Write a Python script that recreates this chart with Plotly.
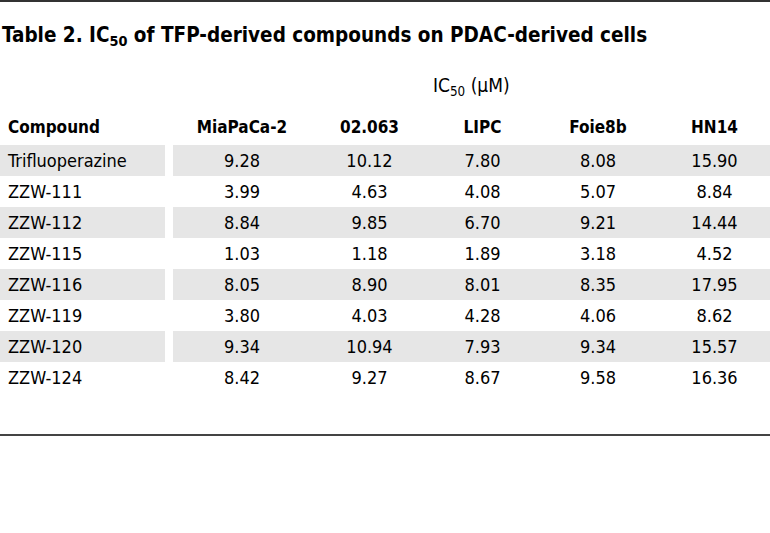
import plotly.graph_objects as go

title_text = "Table 2. IC<sub>50</sub> of TFP-derived compounds on PDAC-derived cells"
group_header = "IC<sub>50</sub> (μM)"
compounds = ["Trifluoperazine", "ZZW-111", "ZZW-112", "ZZW-115", "ZZW-116", "ZZW-119", "ZZW-120", "ZZW-124"]
cell_lines = ["MiaPaCa-2", "02.063", "LIPC", "Foie8b", "HN14"]
miapaca2 = ["9.28", "3.99", "8.84", "1.03", "8.05", "3.80", "9.34", "8.42"]
v02063 = ["10.12", "4.63", "9.85", "1.18", "8.90", "4.03", "10.94", "9.27"]
lipc = ["7.80", "4.08", "6.70", "1.89", "8.01", "4.28", "7.93", "8.67"]
foie8b = ["8.08", "5.07", "9.21", "3.18", "8.35", "4.06", "9.34", "9.58"]
hn14 = ["15.90", "8.84", "14.44", "4.52", "17.95", "8.62", "15.57", "16.36"]

FONT = "Liberation Sans Narrow, DejaVu Sans Condensed, Roboto Condensed, Arial Narrow, Roboto, sans-serif"
W, H = 770, 533
SHADE = "#e6e6e6"
n = len(compounds)
row_fill = [SHADE if i % 2 == 0 else "white" for i in range(n)]

BODY = 18
HEAD = 17
top_px = 109
row_h = 31
ydom = [0, 1 - top_px / H]
nolines = dict(width=0, color="white")

# compound column
fig = go.Figure(go.Table(
    domain=dict(x=[0, 165 / W], y=ydom),
    header=dict(values=["<b>Compound</b>"], align="left", height=row_h,
                fill_color="white", line=nolines,
                font=dict(family=FONT, size=HEAD, color="black")),
    cells=dict(values=[compounds], align="left", height=row_h,
               fill_color=[row_fill], line=nolines,
               font=dict(family=FONT, size=BODY, color="black")),
))

# IC50 value columns
fig.add_trace(go.Table(
    domain=dict(x=[173 / W, 1], y=ydom),
    columnwidth=[138, 117, 109, 122, 111],
    header=dict(values=[f"<b>{c}</b>" for c in cell_lines], align="center", height=row_h,
                fill_color="white", line=nolines,
                font=dict(family=FONT, size=HEAD, color="black")),
    cells=dict(values=[miapaca2, v02063, lipc, foie8b, hn14], align="center", height=row_h,
               fill_color=[row_fill] * 5, line=nolines,
               font=dict(family=FONT, size=BODY, color="black")),
))

fig.add_annotation(text=f"<b>{title_text}</b>", xref="paper", yref="paper",
                   x=0, y=1 - 36 / H, xanchor="left", yanchor="middle",
                   showarrow=False, font=dict(family=FONT, size=20.5, color="black"))
fig.add_annotation(text=group_header, xref="paper", yref="paper",
                   x=431 / W, y=1 - 87 / H, xanchor="left", yanchor="middle",
                   showarrow=False, font=dict(family=FONT, size=19, color="black"))

fig.add_shape(type="line", xref="paper", yref="paper", x0=0, x1=1,
              y0=1 - 1 / H, y1=1 - 1 / H, line=dict(color="#333333", width=2))
fig.add_shape(type="line", xref="paper", yref="paper", x0=0, x1=1,
              y0=1 - 435 / H, y1=1 - 435 / H, line=dict(color="#444444", width=2))

fig.update_layout(width=W, height=H, margin=dict(l=0, r=0, t=0, b=0),
                  paper_bgcolor="white", plot_bgcolor="white")
fig.write_html("out.html", config={"displayModeBar": False},
               post_script="document.body.style.margin='0';")
